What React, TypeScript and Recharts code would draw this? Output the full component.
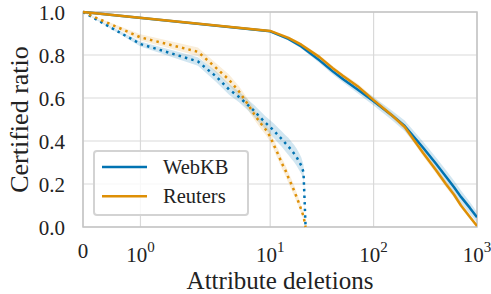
import React from 'react';
import {
    Area,
    CartesianGrid,
    ComposedChart,
    Label,
    Legend,
    Line,
    ReferenceArea,
    XAxis,
    YAxis,
} from 'recharts';

// full attribute deletion (solid) curves
const fullX = [0, 10, 15, 20, 30, 40, 50, 70, 100, 150, 200, 300, 400, 500, 600, 700, 850, 1000];
const webkbFull = [1.0, 0.91, 0.875, 0.84, 0.775, 0.725, 0.69, 0.64, 0.585, 0.52, 0.47, 0.37, 0.295, 0.235, 0.185, 0.14, 0.09, 0.045];
const webkbFullErr = [0, 0.005, 0.008, 0.01, 0.012, 0.014, 0.015, 0.018, 0.02, 0.022, 0.025, 0.028, 0.03, 0.03, 0.03, 0.03, 0.028, 0.025];
const reutersFull = [1.0, 0.912, 0.88, 0.848, 0.79, 0.74, 0.705, 0.655, 0.59, 0.52, 0.465, 0.345, 0.265, 0.2, 0.15, 0.1, 0.048, 0.005];
const reutersFullErr = [0, 0.005, 0.007, 0.008, 0.01, 0.01, 0.01, 0.012, 0.012, 0.012, 0.014, 0.015, 0.015, 0.015, 0.014, 0.012, 0.01, 0.008];

// dotted curves
const dotX = [0, 1, 2, 3, 4, 5, 6, 7, 8, 9, 10, 11, 12, 13, 14, 15, 16, 17, 18, 19, 20, 21, 22];
const webkbDot = [1.0, 0.851, 0.77, 0.7, 0.64, 0.605, 0.57, 0.54, 0.51, 0.485, 0.465, 0.445, 0.425, 0.408, 0.39, 0.375, 0.358, 0.342, 0.325, 0.305, 0.285, 0.255, 0.0];
const webkbDotErr = [0, 0.012, 0.02, 0.025, 0.025, 0.025, 0.025, 0.028, 0.03, 0.03, 0.032, 0.034, 0.035, 0.036, 0.038, 0.04, 0.04, 0.04, 0.04, 0.04, 0.038, 0.035, 0.0];
const reutersDot = [1.0, 0.882, 0.815, 0.74, 0.685, 0.63, 0.575, 0.525, 0.485, 0.455, 0.42, 0.375, 0.335, 0.295, 0.265, 0.23, 0.2, 0.17, 0.14, 0.11, 0.08, 0.05, 0.0];
const reutersDotErr = [0, 0.015, 0.02, 0.022, 0.024, 0.025, 0.025, 0.025, 0.025, 0.025, 0.025, 0.025, 0.025, 0.025, 0.025, 0.025, 0.025, 0.025, 0.022, 0.02, 0.018, 0.015, 0.0];

const xTicks = [0, 1, 10, 100, 1000];
const xTickLabels = ['0', '10^0', '10^1', '10^2', '10^3'];
const yTicks = [0, 0.2, 0.4, 0.6, 0.8, 1.0];
const legendOrder = ['WebKB', 'Reuters'];

const BLUE = '#0173b2';
const ORANGE = '#de8f05';
const TEXT = '#222';
const FONT = "'Liberation Serif', 'DejaVu Serif', serif";

// matplotlib symlog, linthresh=2, linscale=1
const LIN = 2;
const LSCALE = 1 / (1 - 1 / 10);
const symlog = (x: number) => (x <= LIN ? x * LSCALE : LIN * (LSCALE + Math.log10(x / LIN)));

const build = (xs: number[], ys: number[], err: number[]) =>
    xs.map((x, i) => ({ x, y: ys[i], lo: Math.max(0, ys[i] - err[i]), hi: Math.min(1, ys[i] + err[i]) }));

const webkbFullData = build(fullX, webkbFull, webkbFullErr);
const reutersFullData = build(fullX, reutersFull, reutersFullErr);
const webkbDotData = build(dotX, webkbDot, webkbDotErr);
const reutersDotData = build(dotX, reutersDot, reutersDotErr);

const textStyle = { fontFamily: FONT };

const XTick = (props: any) => {
    const { x, y, payload } = props;
    const idx = xTicks.findIndex((t) => Math.abs(symlog(t) - payload.value) < 1e-6);
    const label = xTickLabels[idx] ?? '';
    if (!label.includes('^')) {
        return (
            <text x={x} y={y + 31} textAnchor="middle" fontSize={21} fill={TEXT} style={textStyle}>
                {label}
            </text>
        );
    }
    const [base, exp] = label.split('^');
    return (
        <text x={x} y={y + 34.5} textAnchor="middle" fontSize={21} fill={TEXT} style={textStyle}>
            {base}
            <tspan dy={-10} fontSize={15}>
                {exp}
            </tspan>
        </text>
    );
};

const YTick = (props: any) => {
    const { x, y, payload } = props;
    return (
        <text x={x} y={y + 7.5} textAnchor="end" fontSize={21} fill={TEXT} style={textStyle}>
            {Number(payload.value).toFixed(1)}
        </text>
    );
};

const renderLegend = (props: any) => {
    const items = legendOrder
        .map((name) => (props.payload || []).find((p: any) => p.value === name))
        .filter(Boolean);
    return (
        <svg width={156} height={66} style={{ display: 'block' }}>
            <rect x={1} y={1} width={154} height={64} rx={3} fill="rgba(255,255,255,0.8)" stroke="#d3d3d3" strokeWidth={2} />
            {items.map((item: any, i: number) => (
                <g key={item.value}>
                    <line x1={9} x2={54} y1={17 + i * 29.3} y2={17 + i * 29.3} stroke={item.color} strokeWidth={2.5} />
                    <text x={70} y={24 + i * 29.3} fontSize={20.5} fill={TEXT} style={textStyle}>
                        {item.value}
                    </text>
                </g>
            ))}
        </svg>
    );
};

const xKey = (d: any) => symlog(d.x);
const bandKey = (d: any) => [d.lo, d.hi];

export default function App() {
    const xMax = symlog(1000);
    return (
        <div
            style={{
                position: 'absolute',
                left: 0,
                top: 0,
                width: 491,
                height: 294,
                background: '#fff',
                fontFamily: FONT,
            }}
        >
            <ComposedChart width={491} height={294} margin={{ top: 12, right: 14, bottom: 0, left: 0 }} style={{ fontFamily: FONT }}>
                <CartesianGrid stroke="#d9d9d9" strokeWidth={1.2} />
                <XAxis
                    type="number"
                    dataKey={xKey}
                    domain={[0, xMax]}
                    ticks={xTicks.map(symlog)}
                    allowDataOverflow
                    height={67}
                    tickLine={false}
                    axisLine={false}
                    tickSize={0}
                    tickMargin={0}
                    tick={<XTick />}
                    interval={0}
                >
                    <Label
                        content={(p: any) => (
                            <text
                                x={p.viewBox.x + p.viewBox.width / 2}
                                y={p.viewBox.y + 61.5}
                                textAnchor="middle"
                                fontSize={25}
                                fill={TEXT}
                                style={textStyle}
                            >
                                Attribute deletions
                            </text>
                        )}
                    />
                </XAxis>
                <YAxis
                    type="number"
                    domain={[0, 1]}
                    ticks={yTicks}
                    width={83}
                    tickLine={false}
                    axisLine={false}
                    tickSize={0}
                    tickMargin={18}
                    tick={<YTick />}
                    interval={0}
                >
                    <Label
                        content={(p: any) => (
                            <text
                                transform={`translate(${p.viewBox.x + 28},${p.viewBox.y + p.viewBox.height / 2}) rotate(-90)`}
                                textAnchor="middle"
                                fontSize={26}
                                fill={TEXT}
                                style={textStyle}
                            >
                                Certified ratio
                            </text>
                        )}
                    />
                </YAxis>

                <Area data={webkbDotData} dataKey={bandKey} stroke="none" fill={BLUE} fillOpacity={0.18} isAnimationActive={false} legendType="none" dot={false} activeDot={false} />
                <Area data={reutersDotData} dataKey={bandKey} stroke="none" fill={ORANGE} fillOpacity={0.15} isAnimationActive={false} legendType="none" dot={false} activeDot={false} />
                <Area data={webkbFullData} dataKey={bandKey} stroke="none" fill={BLUE} fillOpacity={0.18} isAnimationActive={false} legendType="none" dot={false} activeDot={false} />
                <Area data={reutersFullData} dataKey={bandKey} stroke="none" fill={ORANGE} fillOpacity={0.15} isAnimationActive={false} legendType="none" dot={false} activeDot={false} />

                <Line data={webkbDotData} dataKey="y" stroke={BLUE} strokeWidth={2.5} strokeDasharray="2.5 4.1" dot={false} activeDot={false} isAnimationActive={false} legendType="none" />
                <Line data={reutersDotData} dataKey="y" stroke={ORANGE} strokeWidth={2.5} strokeDasharray="2.5 4.1" dot={false} activeDot={false} isAnimationActive={false} legendType="none" />
                <Line data={webkbFullData} dataKey="y" name="WebKB" stroke={BLUE} strokeWidth={2.5} strokeLinejoin="round" dot={false} activeDot={false} isAnimationActive={false} />
                <Line data={reutersFullData} dataKey="y" name="Reuters" stroke={ORANGE} strokeWidth={2.5} strokeLinejoin="round" dot={false} activeDot={false} isAnimationActive={false} />

                <ReferenceArea x1={0} x2={xMax} y1={0} y2={1} fill="none" stroke="#c4c4c4" strokeWidth={1.5} ifOverflow="visible" />

                <Legend
                    layout="horizontal"
                    verticalAlign="middle"
                    align="center"
                    content={renderLegend}
                    wrapperStyle={{ left: 93, top: 150, width: 156, height: 66 }}
                />
            </ComposedChart>
        </div>
    );
}
